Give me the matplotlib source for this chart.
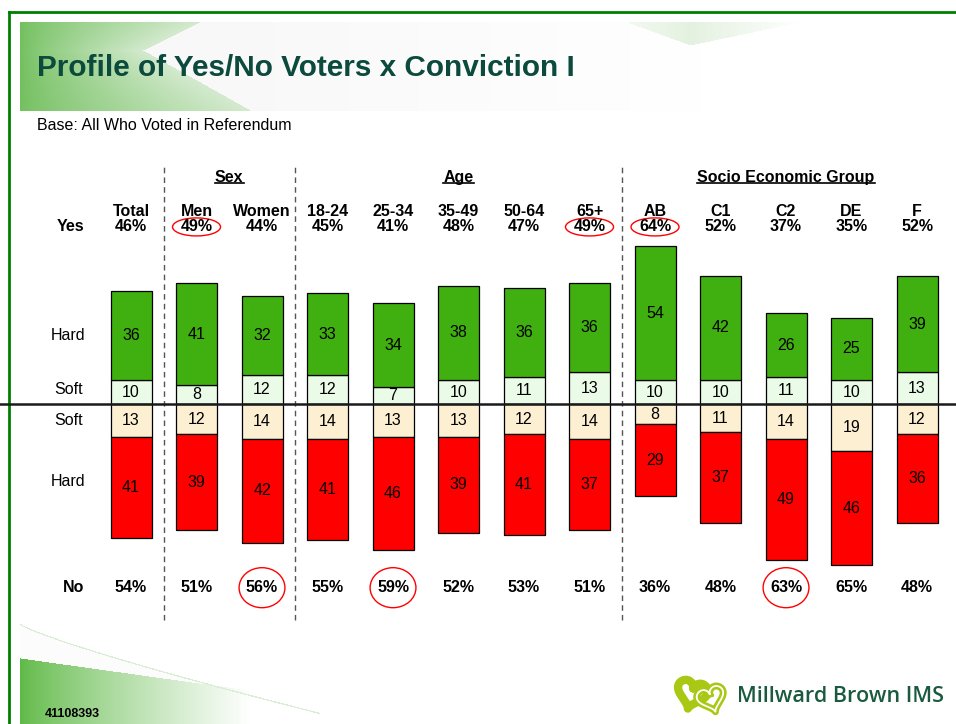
import numpy as np
import matplotlib.pyplot as plt
from matplotlib.patches import Ellipse

plt.rcParams['font.family'] = ['Liberation Sans', 'DejaVu Sans']

# Data
categories = ['Total', 'Men', 'Women', '18-24', '25-34', '35-49', '50-64',
              '65+', 'AB', 'C1', 'C2', 'DE', 'F']
hard_yes = [36, 41, 32, 33, 34, 38, 36, 36, 54, 42, 26, 25, 39]
soft_yes = [10, 8, 12, 12, 7, 10, 11, 13, 10, 10, 11, 10, 13]
soft_no = [13, 12, 14, 14, 13, 13, 12, 14, 8, 11, 14, 19, 12]
hard_no = [41, 39, 42, 41, 46, 39, 41, 37, 29, 37, 49, 46, 36]
yes_pct = [46, 49, 44, 45, 41, 48, 47, 49, 64, 52, 37, 35, 52]
no_pct = [54, 51, 56, 55, 59, 52, 53, 51, 36, 48, 63, 65, 48]
groups = [('Sex', 1, 2), ('Age', 3, 7), ('Socio Economic Group', 8, 12)]
separators = [0.5, 2.5, 7.5]
yes_circled = ['Men', '65+', 'AB']
no_circled = ['Women', '25-34', 'C2']

GREEN = '#40b010'
SOFT_GREEN = '#eafbe8'
SOFT_YELLOW = '#fdf0d2'
RED = '#ff0000'
W, H = 956, 724


def make_background():
    img = np.ones((H, W, 3))
    yy, xx = np.mgrid[0:H, 0:W].astype(float)

    # banner behind the title
    c0 = np.array([115, 192, 95]) / 255
    c1 = np.array([212, 234, 207]) / 255
    band = (yy >= 22) & (yy <= 110) & (xx >= 20) & (xx <= 800)
    xb = np.where(yy < 50, 143 + 57 * (50 - yy) / 28, 143 + 107 * (yy - 50) / 60)
    left = band & (xx < xb)
    t = np.clip((xx - 20) / (xb - 20), 0, 1) ** 0.8
    for k in range(3):
        img[..., k] = np.where(left, c0[k] * (1 - t) + c1[k] * t, img[..., k])
    right = band & (xx >= xb)
    shade = 0.975 + 0.025 * np.clip((xx - 250) / 450, 0, 1)
    img[..., 0] = np.where(right, shade, img[..., 0])
    img[..., 1] = np.where(right, shade, img[..., 1])
    img[..., 2] = np.where(right, shade, img[..., 2])
    # faint wedge top right
    wedge = (yy >= 22) & (xx > 627) & (xx < 800)
    tip = 22 + 23 * np.clip(1 - np.abs(xx - 690) / np.where(xx < 690, 63, 110), 0, 1)
    wedge &= yy < tip
    fade = np.clip(np.abs(xx - 690) / 110, 0, 1)
    wc = np.array([228, 241, 224]) / 255
    for k in range(3):
        img[..., k] = np.where(wedge, wc[k] * (1 - fade) + fade, img[..., k])

    # swoosh bottom left
    outline = 624 + 84 * np.clip((xx - 20) / 280, 0, None) ** 0.85
    pale = (xx >= 20) & (yy >= outline) & (xx < 320)
    img[pale] = 0.99
    gtop = 658 + 0.14 * (xx - 20)
    g = (xx >= 20) & (yy >= gtop)
    f = np.clip((xx - 20) / 230, 0, 1) ** 0.8
    gc = np.array([95, 185, 70]) / 255
    for k in range(3):
        img[..., k] = np.where(g, gc[k] * (1 - f) + 1.0 * f, img[..., k])
    edge = (xx >= 20) & (np.abs(yy - outline) < 0.7) & (xx < 320)
    img[edge] = np.array([218, 238, 214]) / 255
    return img


def heart(cx, cy, scale, angle):
    t = np.linspace(0, 2 * np.pi, 200)
    x = 16 * np.sin(t) ** 3
    y = 13 * np.cos(t) - 5 * np.cos(2 * t) - 2 * np.cos(3 * t) - np.cos(4 * t)
    a = np.radians(angle)
    xr = x * np.cos(a) - y * np.sin(a)
    yr = x * np.sin(a) + y * np.cos(a)
    return cx + scale * xr, cy - scale * yr


fig = plt.figure(figsize=(W / 100, H / 100), dpi=100)

# background, frame and logo in pixel coordinates
ax_bg = fig.add_axes([0, 0, 1, 1])
ax_bg.imshow(make_background(), extent=(0, W, H, 0), aspect='auto')
ax_bg.set_xlim(0, W)
ax_bg.set_ylim(H, 0)
ax_bg.axis('off')
ax_bg.plot([9, 9], [12, H], color='#008000', lw=2)
ax_bg.plot([9, W], [12, 12], color='#008000', lw=2)

hx, hy = heart(692, 693, 0.95, -15)
ax_bg.plot(hx, hy, color='#a8c814', lw=6, solid_capstyle='round')
hx, hy = heart(711, 698, 0.85, 18)
ax_bg.plot(hx, hy, color='#a8c814', lw=5)
ax_bg.plot(hx, hy, color='white', lw=1.3)

fig.text(37 / W, 1 - 76 / H, 'Profile of Yes/No Voters x Conviction I',
         fontsize=21.4, fontweight='bold', color='#0b4a3c', va='baseline')
fig.text(37 / W, 1 - 130 / H, 'Base: All Who Voted in Referendum',
         fontsize=11.5, va='baseline')
fig.text(45 / W, 1 - 717 / H, '41108393', fontsize=9, fontweight='bold',
         va='baseline')
fig.text(737 / W, 1 - 697 / H, 'Millward Brown IMS', fontsize=15.5,
         family='Open Sans', fontweight='semibold', color='#1b5a3f',
         va='center')

# main chart
ax = fig.add_axes([0, 0, 1, 1])
ax.patch.set_alpha(0)
ax.axis('off')
ax.set_xlim(-2.0, 12.595)
ax.set_ylim(-129.4, 163.8)

x = np.arange(len(categories))
sy = np.array(soft_yes)
hy_ = np.array(hard_yes)
sn = np.array(soft_no)
hn = np.array(hard_no)
bw = 0.626
kw = dict(edgecolor='black', linewidth=0.9, zorder=3)
ax.bar(x, sy, bw, bottom=0, color=SOFT_GREEN, **kw)
ax.bar(x, hy_, bw, bottom=sy, color=GREEN, **kw)
ax.bar(x, -sn, bw, bottom=0, color=SOFT_YELLOW, **kw)
ax.bar(x, -hn, bw, bottom=-sn, color=RED, **kw)

for i in x:
    ax.text(i, sy[i] / 2, str(sy[i]), ha='center', va='center', fontsize=11.5, zorder=4)
    ax.text(i, sy[i] + hy_[i] / 2, str(hy_[i]), ha='center', va='center', fontsize=11.5, zorder=4)
    ax.text(i, -sn[i] / 2, str(sn[i]), ha='center', va='center', fontsize=11.5, zorder=4)
    ax.text(i, -sn[i] - hn[i] / 2, str(hn[i]), ha='center', va='center', fontsize=11.5, zorder=4)

ax.axhline(0, color='#1a1a1a', lw=1.8, zorder=5)
ax.vlines(separators, -87.2, 97, colors='#555555', linestyles=(0, (4, 3)), lw=1)

# row labels
for label, yv in [('Hard', 28), ('Soft', 6), ('Soft', -6.5), ('Hard', -31)]:
    ax.text(-0.96, yv, label, ha='center', va='center', fontsize=11.5)

header_y, name_y, yes_y, no_y = 91.8, 78.3, 71.9, -74.2
bold = dict(ha='center', va='center', fontsize=11.5, fontweight='bold')
ax.text(-0.92, yes_y, 'Yes', **bold)
ax.text(-0.87, no_y, 'No', **bold)
for i, cat in enumerate(categories):
    ax.text(i, name_y, cat, **bold)
    ax.text(i, yes_y, f'{yes_pct[i]}%', **bold)
    ax.text(i, no_y, f'{no_pct[i]}%', **bold)
    if cat in yes_circled:
        ax.add_patch(Ellipse((i, yes_y), 0.733, 7.3, fill=False, ec='red', lw=1))
    if cat in no_circled:
        ax.add_patch(Ellipse((i, no_y), 0.70, 16.2, fill=False, ec='red', lw=1))

# group headers, underlined
fig.canvas.draw()
renderer = fig.canvas.get_renderer()
for name, a, b in groups:
    t = ax.text((a + b) / 2, header_y, name, **bold)
    bb = t.get_window_extent(renderer)
    yl = H - bb.y0 - 2
    ax_bg.plot([bb.x0, bb.x1], [yl, yl], color='black', lw=1.2)

fig.savefig('out.png', dpi=100)
